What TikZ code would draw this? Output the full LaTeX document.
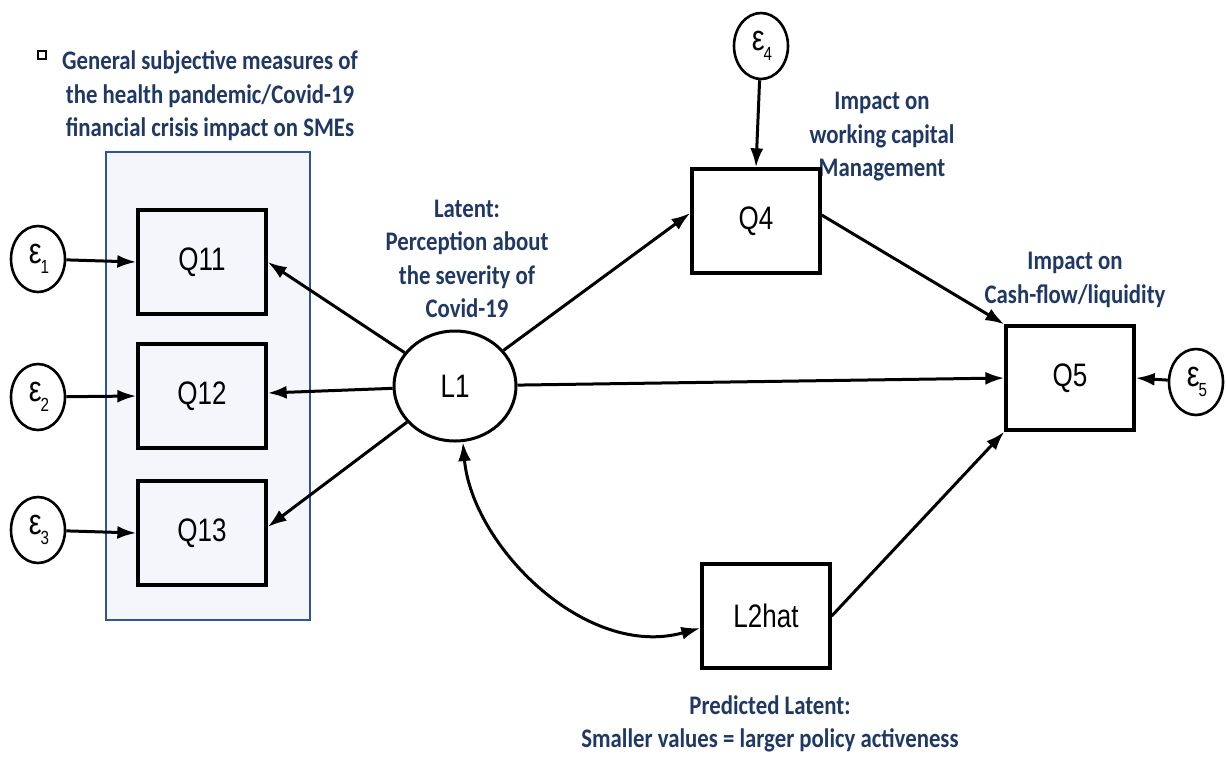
\documentclass[tikz,border=0pt]{standalone}
\usepackage{fontspec}
\setmainfont{Liberation Sans}
\newfontfamily\nodefont[FakeStretch=0.8]{Liberation Sans}
\newfontfamily\lblfont[FakeStretch=0.85]{Carlito}
\usetikzlibrary{arrows.meta,shapes.geometric}
\definecolor{lblblue}{HTML}{203864}
\definecolor{panelfill}{HTML}{F4F6FB}
\definecolor{panelline}{HTML}{2E5597}
\tikzset{
  obs/.style={draw, line width=3.3pt, minimum width=128pt, minimum height=104pt, inner sep=0pt, font=\nodefont\fontsize{32.5}{33}\selectfont},
  err/.style={draw, ellipse, line width=2.6pt, minimum width=54pt, minimum height=66pt, inner sep=0pt, font=\nodefont\fontsize{36}{36}\selectfont},
  lat/.style={draw, ellipse, line width=3pt, minimum width=122pt, minimum height=110pt, inner sep=0pt, font=\nodefont\fontsize{32.5}{33}\selectfont},
  conn/.style={line width=3pt, -{Latex[length=19pt,width=13pt]}},
  lbl/.style={text=lblblue, align=center, font=\lblfont\bfseries\fontsize{26.8}{33.5}\selectfont},
}
\newcommand{\eps}[1]{\kern2pt ε\kern-1pt\raisebox{-10pt}{\fontsize{19}{19}\selectfont #1}}
\begin{document}
\begin{tikzpicture}[x=1pt,y=-1pt]
\useasboundingbox (0,0) rectangle (1226,756);
% panel
\node[draw=panelline, fill=panelfill, line width=1.6pt, minimum width=204pt, minimum height=468pt, inner sep=0pt] (panel) at (208,386) {};
% bullet
\node[draw, line width=2.4pt, minimum width=8pt, minimum height=8pt, inner sep=0pt] (bullet) at (42,55) {};
% labels
\node[lbl] (lblgen) at (210,96) {General subjective measures of\\the health pandemic/Covid-19\\financial crisis impact on SMEs};
\node[lbl] (lbllat) at (467,259) {Latent:\\Perception about\\the severity of\\Covid-19};
\node[lbl] (lblwc) at (882,137) {Impact on\\working capital\\Management};
\node[lbl] (lblcf) at (1075,280) {Impact on\\Cash-flow/liquidity};
\node[lbl] (lblpred) at (770,724) {Predicted Latent:\\Smaller values = larger policy activeness};
% nodes
\node[obs] (Q11) at (202,262) {Q11};
\node[obs] (Q12) at (202,396) {Q12};
\node[obs] (Q13) at (202,533) {Q13};
\node[obs] (Q4) at (756,221) {Q4};
\node[obs] (Q5) at (1070,378) {Q5};
\node[obs] (L2hat) at (766,616) {L2hat};
\node[lat] (L1) at (455,386) {L1};
\node[err] (e1) at (38,259) {\eps{1}};
\node[err] (e2) at (38,397) {\eps{2}};
\node[err] (e3) at (38,530) {\eps{3}};
\node[err] (e4) at (761,46) {\eps{4}};
\node[err] (e5) at (1196,382) {\eps{5}};
% connectors
\draw[conn] (e1) -- (Q11.west);
\draw[conn] (e2) -- (Q12.west);
\draw[conn] (e3) -- (Q13.west);
\draw[conn] (L1) -- (Q11.east);
\draw[conn] (L1) -- ([yshift=3pt]Q12.east);
\draw[conn] (L1) -- ([yshift=6pt]Q13.east);
\draw[conn] (L1) -- ([yshift=8pt]Q4.west);
\draw[conn] (L1) -- (Q5.west);
\draw[conn] ([yshift=6pt]Q4.east) -- (Q5.north west);
\draw[conn] (L2hat.east) -- (Q5.south west);
\draw[conn] (e4) -- (Q4.north);
\draw[conn] (e5) -- (Q5.east);
\draw[line width=3pt, {Latex[length=19pt,width=13pt]}-{Latex[length=19pt,width=13pt]}] (L1.-82) .. controls (472,545) and (585,660) .. ([yshift=-12pt]L2hat.west);
\end{tikzpicture}
\end{document}
